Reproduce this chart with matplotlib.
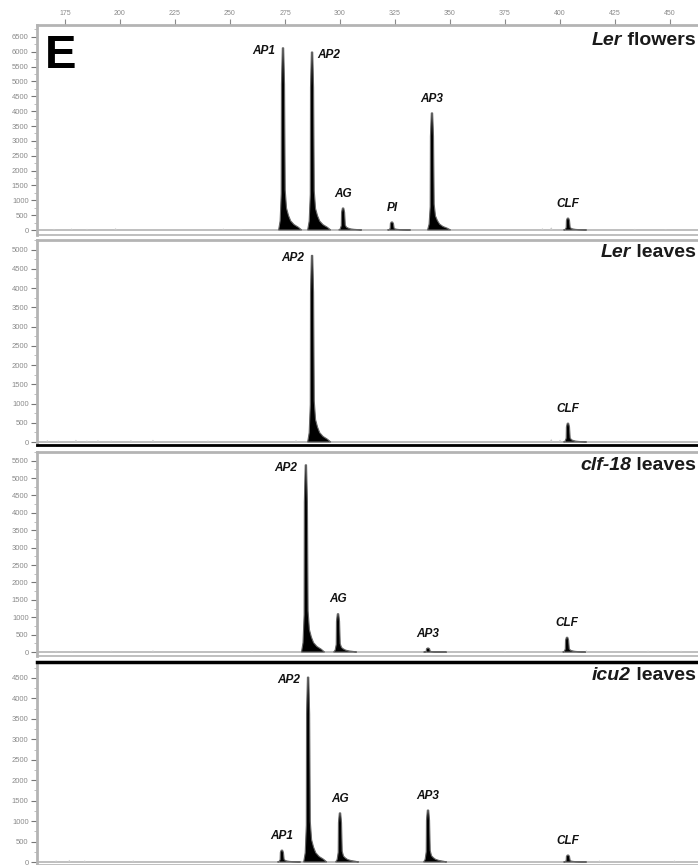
import numpy as np
import matplotlib.pyplot as plt
from matplotlib.offsetbox import TextArea, HPacker, AnchoredOffsetbox

plt.rcParams['font.family'] = ['Liberation Sans', 'DejaVu Sans']

# fragment size (bp) on the top axis
size_ticks = [175, 200, 225, 250, 275, 300, 325, 350, 375, 400, 425, 450]

# panel titles (italic part, plain part)
title_it = ['Ler', 'Ler', 'clf-18', 'icu2']
title_rm = [' flowers', ' leaves', ' leaves', ' leaves']
ytop_label = [6500, 5000, 5500, 4500]

# peaks per panel: name, size (bp), height (RFU)
names_1 = ['AP1', 'AP2', 'AG', 'PI', 'AP3', 'CLF']
sizes_1 = [274.1, 287.3, 301.4, 323.6, 341.8, 403.6]
rfu_1 = [6130, 5990, 740, 270, 3940, 400]

names_2 = ['AP2', 'CLF']
sizes_2 = [287.3, 403.6]
rfu_2 = [4850, 490]

names_3 = ['AP2', 'AG', 'AP3', 'CLF']
sizes_3 = [284.5, 299.1, 340.0, 403.2]
rfu_3 = [5380, 1100, 115, 425]

names_4 = ['AP1', 'AP2', 'AG', 'AP3', 'CLF']
sizes_4 = [273.6, 285.5, 300.0, 340.0, 403.6]
rfu_4 = [290, 4520, 1200, 1270, 170]

# small baseline blips (bp, RFU)
blip_x_1 = [170, 178, 185, 198, 247, 255, 392, 396, 434, 448]
blip_y_1 = [40, 50, 40, 60, 50, 40, 60, 90, 40, 30]
blip_x_2 = [167, 172, 180, 185, 190, 196, 205, 215, 240, 260, 280, 396, 400, 430, 450]
blip_y_2 = [50, 40, 60, 40, 50, 40, 50, 60, 40, 40, 50, 80, 60, 40, 40]
blip_x_3 = [171, 178, 196, 215, 260, 300, 340, 375, 412, 440, 455]
blip_y_3 = [40, 40, 40, 50, 40, 40, 40, 40, 50, 40, 40]
blip_x_4 = [171, 177, 184, 206, 255, 418, 452]
blip_y_4 = [40, 50, 40, 40, 40, 40, 40]

panels = [(names_1, sizes_1, rfu_1, blip_x_1, blip_y_1),
          (names_2, sizes_2, rfu_2, blip_x_2, blip_y_2),
          (names_3, sizes_3, rfu_3, blip_x_3, blip_y_3),
          (names_4, sizes_4, rfu_4, blip_x_4, blip_y_4)]

# where each peak label sits
label_side = [['left', 'right', 'above', 'above', 'above', 'above'],
              ['left', 'above'],
              ['left', 'above', 'above', 'above'],
              ['above', 'left', 'above', 'above', 'above']]

# layout in pixels
W, H = 698, 865
px_rows = [(25, 235), (240, 445), (452, 656), (662, 865)]
title_top_px = [32, 244, 457, 667]
ylims = [(-168, 6900), (-77, 5180), (-113, 5666), (-73, 4890)]
xlim = (162.3, 462.7)

# peak shape (relative)
shape_dx = np.array([-2, -1.3, -0.8, -0.7, -0.3, 0.3, 0.7, 1.0, 1.6, 2.5, 3.5, 5, 7, 8.5])
shape_h = np.array([0, 0.05, 0.2, 0.8, 1, 1, 0.8, 0.22, 0.12, 0.08, 0.05, 0.03, 0.015, 0])
blip_dx = np.array([-0.8, 0, 0.8])
blip_h = np.array([0, 1, 0])

fig = plt.figure(figsize=(W / 100, H / 100), dpi=100)
gray = '#b4b4b4'
tgray = '#8a8a8a'
lab = dict(fontsize=8.5, fontweight='bold', style='italic', color='#111111')

for i, (names, sizes, rfu, bx, by) in enumerate(panels):
    top, bot = px_rows[i]
    ax = fig.add_axes([37 / W, 1 - bot / H, 1 - 37 / W, (bot - top) / H])
    ax.set_xlim(*xlim)
    ax.set_ylim(*ylims[i])

    ax.axhline(0, color=gray, lw=1.2, zorder=1)
    for x0, h in zip(bx, by):
        ax.fill(x0 + blip_dx, h * blip_h, color='#c8c8c8', lw=0, zorder=2)
    for name, x0, h, side in zip(names, sizes, rfu, label_side[i]):
        ax.fill(x0 + shape_dx, h * shape_h, facecolor='black', edgecolor='#666666',
                lw=0.8, zorder=3)
        if side == 'left':
            ax.annotate(name, (x0, h), xytext=(-6, -2), textcoords='offset points',
                        ha='right', va='center', **lab)
        elif side == 'right':
            ax.annotate(name, (x0, h), xytext=(4, -2), textcoords='offset points',
                        ha='left', va='center', **lab)
        else:
            ax.annotate(name, (x0, h), xytext=(0, 6), textcoords='offset points',
                        ha='center', va='bottom', **lab)

    # title
    t1 = TextArea(title_it[i], textprops=dict(fontsize=14, fontweight='bold',
                                               style='italic', color='#1a1a1a'))
    t2 = TextArea(title_rm[i], textprops=dict(fontsize=14, fontweight='bold',
                                               color='#1a1a1a'))
    box = HPacker(children=[t1, t2], align='baseline', pad=0, sep=0)
    anch = AnchoredOffsetbox(loc='upper right', child=box, frameon=False,
                             bbox_to_anchor=(696 / W, 1 - title_top_px[i] / H),
                             bbox_transform=fig.transFigure, pad=0, borderpad=0)
    ax.add_artist(anch)

    # spines
    ax.spines['right'].set_visible(False)
    ax.spines['left'].set_color(gray)
    ax.spines['left'].set_linewidth(2)
    ax.spines['top'].set_color('black' if i == 3 else gray)
    ax.spines['top'].set_linewidth(2.5 if i == 3 else 2)
    ax.spines['bottom'].set_color('black' if i == 1 else gray)
    ax.spines['bottom'].set_linewidth(2 if i == 1 else 1.2)

    yt = np.arange(0, ytop_label[i] + 1, 500)
    ax.set_yticks(yt)
    ax.set_yticks(np.arange(250, ytop_label[i] + 300, 500), minor=True)
    ax.set_yticklabels([str(v) for v in yt])
    ax.tick_params(axis='y', which='major', length=4, width=0.8, color='#777777',
                   labelsize=5.5, labelcolor=tgray, pad=2)
    ax.tick_params(axis='y', which='minor', length=2.5, width=0.6, color=gray)

    if i == 0:
        ax.xaxis.tick_top()
        ax.set_xticks(size_ticks)
        ax.set_xticklabels([str(v) for v in size_ticks])
        ax.tick_params(axis='x', length=4, width=0.8, color=tgray, labelsize=5,
                       labelcolor=tgray, pad=2)
        ax.text(0.012, 0.955, 'E', transform=ax.transAxes, fontsize=34,
                fontweight='bold', ha='left', va='top')
    else:
        ax.set_xticks([])

fig.savefig('out.png', dpi=100)
